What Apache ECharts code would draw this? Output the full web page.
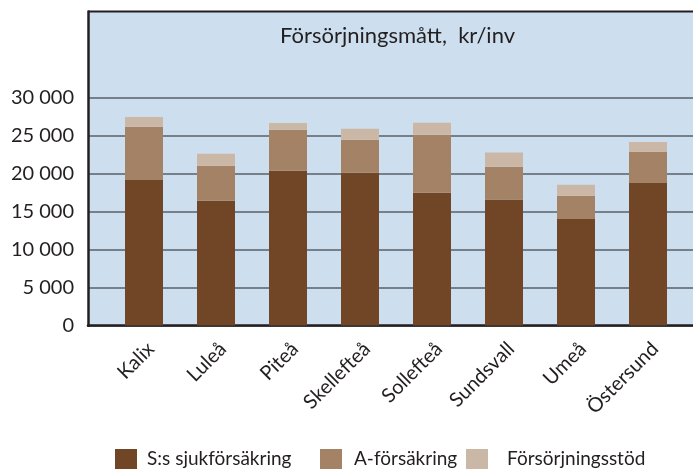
<!DOCTYPE html>
<html>
<head>
<meta charset="utf-8">
<script src="https://cdn.jsdelivr.net/npm/echarts@6/dist/echarts.min.js"></script>
<style>
  html, body { margin: 0; padding: 0; background: #fff; }
  #chart { width: 693px; height: 470px; }
</style>
</head>
<body>
<div id="chart"></div>
<script>
// orter
const categories = ['Kalix', 'Luleå', 'Piteå', 'Skellefteå', 'Sollefteå', 'Sundsvall', 'Umeå', 'Östersund'];
// kr/inv, staplade
const sjukforsakring = [19200, 16450, 20400, 20150, 17500, 16600, 14050, 18800];
const aForsakring = [7000, 4600, 5400, 4350, 7650, 4350, 3050, 4100];
const forsorjningsstod = [1300, 1600, 900, 1450, 1600, 1850, 1450, 1300];
const seriesNames = ['S:s sjukförsäkring', 'A-försäkring', 'Försörjningsstöd'];
const yTicks = [0, 5000, 10000, 15000, 20000, 25000, 30000];

const colors = ['#704626', '#a38266', '#cbb7a5'];
const textColor = '#231f20';
const font = 'Lato';

function fmtThousand(v) {
  return String(v).replace(/\B(?=(\d{3})+(?!\d))/g, ' ');
}

const chart = echarts.init(document.getElementById('chart'));

function makeBar(name, data, idx) {
  return {
    name: name,
    type: 'bar',
    stack: 'total',
    xAxisIndex: 1,
    yAxisIndex: 1,
    barWidth: 38,
    data: data,
    itemStyle: { color: colors[idx] },
    emphasis: { disabled: true }
  };
}

function makeLegend(idx, left, gap) {
  return {
    data: [seriesNames[idx]],
    left: left,
    top: 449,
    padding: 0,
    itemWidth: 22,
    itemHeight: 20,
    itemGap: 0,
    icon: 'rect',
    textStyle: { fontFamily: font, fontSize: 19, color: textColor, padding: [2, 0, 0, gap] },
    selectedMode: false
  };
}

const options = {
  animation: false,
  textStyle: { fontFamily: font },
  title: {
    text: 'Försörjningsmått,  kr/inv',
    left: 275,
    top: 20,
    textStyle: { fontFamily: font, fontSize: 22, fontWeight: 'normal', color: textColor }
  },
  legend: [makeLegend(0, 115, 5), makeLegend(1, 320, 7), makeLegend(2, 466, 14)],
  grid: [
    { left: 88, right: 0, top: 98, bottom: 144.5 },
    { left: 108, right: 9, top: 98, bottom: 144.5 }
  ],
  xAxis: [
    {
      type: 'category',
      gridIndex: 0,
      data: categories,
      axisLine: { show: true, lineStyle: { color: textColor, width: 2.5 } },
      axisTick: { show: false },
      axisLabel: { show: false }
    },
    {
      type: 'category',
      gridIndex: 1,
      data: categories,
      axisLine: { show: false },
      axisTick: { show: false },
      axisLabel: {
        rotate: 45,
        margin: 13,
        verticalAlign: 'top',
        fontFamily: font,
        fontSize: 20,
        color: textColor
      }
    }
  ],
  yAxis: [
    {
      type: 'value',
      gridIndex: 0,
      min: yTicks[0],
      max: yTicks[yTicks.length - 1],
      interval: yTicks[1] - yTicks[0],
      axisLine: { show: false },
      axisTick: { show: false },
      splitLine: { show: true, lineStyle: { color: '#59606a', width: 1.5 } },
      axisLabel: {
        margin: 14,
        fontFamily: font,
        fontSize: 20,
        color: textColor,
        formatter: fmtThousand
      }
    },
    {
      type: 'value',
      gridIndex: 1,
      min: yTicks[0],
      max: yTicks[yTicks.length - 1],
      interval: yTicks[1] - yTicks[0],
      show: false,
      splitLine: { show: false }
    }
  ],
  graphic: [
    {
      type: 'rect',
      z: -1,
      silent: true,
      shape: { x: 88, y: 11, width: 605, height: 315 },
      style: { fill: '#cddfee' }
    },
    {
      type: 'line',
      z: 10,
      silent: true,
      shape: { x1: 88, y1: 11.5, x2: 693, y2: 11.5 },
      style: { stroke: textColor, lineWidth: 2 }
    },
    {
      type: 'line',
      z: 10,
      silent: true,
      shape: { x1: 88.5, y1: 10.5, x2: 88.5, y2: 327 },
      style: { stroke: textColor, lineWidth: 2.5 }
    }
  ],
  series: [
    makeBar(seriesNames[0], sjukforsakring, 0),
    makeBar(seriesNames[1], aForsakring, 1),
    makeBar(seriesNames[2], forsorjningsstod, 2)
  ]
};

chart.setOption(options);
</script>
</body>
</html>
